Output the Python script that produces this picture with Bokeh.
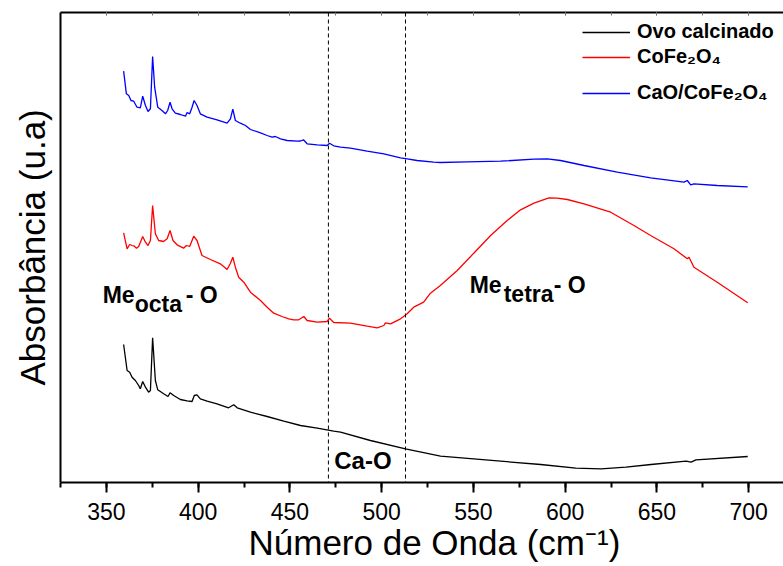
from bokeh.plotting import figure
from bokeh.models import (Range1d, LinearAxis, SingleIntervalTicker, FixedTicker,
                          Span, Label, Legend, LegendItem, Title)
from bokeh.embed import file_html
from bokeh.resources import INLINE

# FTIR spectra, wavenumber (cm-1) vs absorbance (arbitrary units, stacked)
ovo_x = [359.4, 361.3, 362.7, 364.0, 365.8, 367.6, 368.5, 369.8, 371.3, 373.0, 374.0,
         375.2, 376.7, 378.0, 381.2, 383.6, 384.7, 386.7, 390.3, 394.0, 396.7, 397.9,
         399.4, 401.2, 404.9, 410.3, 416.6, 419.4, 421.3, 428.5, 437.6, 446.7, 455.8,
         464.9, 473.9, 477.6, 493.9, 513.0, 532.1, 564.9, 586.7, 605.8, 619.5, 633.1,
         646.8, 665.9, 668.6, 671.3, 699.5]
ovo_y = [138.0, 112.0, 110.3, 105.3, 102.0, 97.0, 93.7, 101.0, 95.3, 90.3, 92.0,
         144.7, 102.0, 92.7, 88.7, 86.0, 89.7, 87.0, 83.0, 81.7, 81.0, 87.0,
         87.7, 83.7, 81.3, 78.7, 74.7, 77.7, 74.7, 70.3, 66.0, 61.3, 57.0,
         54.3, 51.3, 50.3, 42.0, 33.7, 26.3, 21.3, 18.0, 14.3, 13.7, 15.3,
         18.0, 21.3, 20.3, 22.7, 26.0]

cofe_x = [359.4, 361.3, 362.7, 364.0, 365.3, 366.4, 367.6, 369.8, 371.3, 372.7, 374.0,
          375.2, 376.7, 378.5, 381.2, 383.1, 384.7, 386.3, 388.5, 392.1, 393.6, 395.4,
          397.6, 399.4, 402.1, 406.7, 412.1, 415.8, 417.6, 418.9, 420.3, 422.1, 424.9,
          428.5, 434.0, 437.6, 441.2, 445.7, 449.4, 452.1, 454.8, 457.6, 459.4, 464.9,
          470.3, 471.6, 473.9, 483.0, 492.1, 497.6, 501.2, 502.1, 504.8, 510.3, 513.9,
          517.5, 522.9, 526.6, 532.0, 541.2, 550.2, 559.4, 568.4, 575.7, 583.0, 591.2,
          595.7, 601.2, 610.3, 624.8, 637.5, 646.6, 659.3, 666.6, 667.5, 670.2, 682.9,
          699.5]
cofe_y = [249.7, 233.7, 238.0, 237.0, 236.3, 234.3, 236.0, 246.0, 240.3, 237.0, 242.0,
          277.0, 248.7, 242.0, 241.0, 243.7, 252.0, 242.0, 237.7, 234.3, 237.0, 236.0,
          246.3, 242.0, 227.0, 223.0, 218.7, 213.0, 219.3, 225.3, 215.3, 205.3, 200.3,
          190.3, 182.0, 175.3, 169.3, 166.0, 163.7, 162.7, 162.7, 166.0, 162.0, 160.3,
          161.0, 164.3, 160.0, 159.3, 156.3, 154.7, 157.0, 159.7, 158.7, 163.7, 168.7,
          175.3, 180.3, 189.3, 197.0, 212.0, 229.3, 247.0, 262.0, 272.7, 279.3, 284.7,
          284.3, 283.0, 278.7, 270.3, 257.0, 247.0, 233.7, 223.7, 225.3, 215.3, 200.3,
          179.7]

cao_x = [359.4, 360.9, 362.2, 363.4, 364.9, 366.7, 368.5, 369.8, 371.3, 372.7, 374.0,
         375.2, 376.3, 378.0, 380.3, 382.2, 383.4, 384.7, 385.8, 387.6, 390.3, 393.1,
         394.0, 395.4, 396.7, 397.8, 399.4, 401.2, 404.9, 410.3, 415.8, 417.6, 418.9,
         420.3, 423.0, 425.8, 428.5, 434.0, 437.6, 440.3, 442.1, 444.9, 448.5, 454.0,
         455.8, 457.4, 459.4, 464.9, 470.3, 471.6, 473.9, 477.6, 483.0, 492.1, 501.2,
         510.3, 513.9, 519.3, 528.4, 532.0, 546.6, 564.8, 583.0, 590.3, 597.5, 610.3,
         628.4, 646.6, 664.8, 666.6, 668.4, 670.2, 682.9, 699.5]
cao_y = [411.3, 388.7, 387.0, 382.0, 381.3, 375.3, 374.7, 386.3, 377.0, 371.0, 373.7,
         426.0, 395.3, 375.3, 372.0, 368.7, 372.0, 380.3, 373.7, 369.3, 368.0, 366.3,
         370.0, 368.7, 375.3, 382.0, 377.0, 368.7, 365.3, 362.7, 359.3, 363.7, 373.3,
         362.0, 359.3, 357.0, 353.0, 349.7, 347.0, 345.3, 346.0, 343.7, 342.0, 341.3,
         341.5, 342.7, 338.7, 337.7, 337.0, 339.3, 336.7, 335.3, 334.3, 331.3, 328.7,
         324.7, 323.7, 322.0, 320.3, 320.0, 320.7, 321.3, 323.3, 323.7, 322.0, 317.0,
         310.3, 304.7, 300.3, 302.0, 297.7, 298.7, 297.0, 295.7]

series_names = ["Ovo calcinado", "CoFe\u2082O\u2084", "CaO/CoFe\u2082O\u2084"]
series_colors = ["#000000", "#FF0000", "#0000FF"]

band_lines = [471.0, 513.0]
x_ticks_interval = 50

x_title = "N\u00famero de Onda (cm\u207b\u00b9)"
y_title = "Absorb\u00e2ncia (u.a)"

FONT = "Liberation Sans"

p = figure(width=783, height=566, output_backend="svg", toolbar_location=None,
           x_range=Range1d(325, 719), y_range=Range1d(0, 470),
           x_axis_location=None, y_axis_location=None,
           min_border_left=60, min_border_right=0, min_border_top=12,
           min_border_bottom=84)
p.outline_line_color = None
p.xgrid.visible = False
p.ygrid.visible = False
p.background_fill_color = "white"
p.border_fill_color = "white"

# bottom axis with labelled majors and outward minor ticks
xb = LinearAxis(ticker=SingleIntervalTicker(interval=x_ticks_interval, num_minor_ticks=2))
xb.major_label_text_font = FONT
xb.major_label_text_font_size = "23px"
xb.major_label_text_color = "black"
xb.major_label_standoff = 10
xb.axis_line_width = 2
xb.major_tick_line_width = 2
xb.minor_tick_line_width = 2
xb.major_tick_in = 0
xb.major_tick_out = 10
xb.minor_tick_in = 0
xb.minor_tick_out = 5
p.add_layout(xb, "below")

# top frame edge with small inward ticks, no labels
xt = LinearAxis(ticker=SingleIntervalTicker(interval=x_ticks_interval, num_minor_ticks=2))
xt.major_label_text_font_size = "0px"
xt.major_label_text_color = None
xt.major_label_standoff = 0
xt.axis_line_width = 2
xt.major_tick_in = 3
xt.major_tick_out = 0
xt.minor_tick_in = 3
xt.minor_tick_out = 0
xt.major_tick_line_color = "#777777"
xt.minor_tick_line_color = "#777777"
p.add_layout(xt, "above")

# left frame edge, no ticks
yl = LinearAxis(ticker=FixedTicker(ticks=[]))
yl.major_label_text_font_size = "0px"
yl.major_label_text_color = None
yl.major_label_standoff = 0
yl.major_tick_out = 0
yl.major_tick_in = 0
yl.axis_line_width = 2
p.add_layout(yl, "left")

# axis titles
p.add_layout(Title(text=x_title, align="left", offset=188, vertical_align="top",
                   standoff=0, text_font=FONT, text_font_size="35px",
                   text_font_style="normal", text_color="black"), "below")
p.add_layout(Title(text=y_title, align="left", offset=97, vertical_align="bottom",
                   standoff=18, text_font=FONT, text_font_size="35px",
                   text_font_style="normal", text_color="black"), "left")

# band position markers
for xv in band_lines:
    p.add_layout(Span(location=xv, dimension="height", line_color="black",
                      line_width=1, line_dash="4 3"))

r_ovo = p.line(ovo_x, ovo_y, line_color=series_colors[0], line_width=1.3)
r_cofe = p.line(cofe_x, cofe_y, line_color=series_colors[1], line_width=1.3)
r_cao = p.line(cao_x, cao_y, line_color=series_colors[2], line_width=1.3)

# one legend per row so each entry sits at its own height (y = bottom edge)
legend_bottoms = [439, 414, 378]
for name, rend, bottom in zip(series_names, [r_ovo, r_cofe, r_cao], legend_bottoms):
    lg = Legend(items=[LegendItem(label=name, renderers=[rend])],
                location=(522, bottom), orientation="vertical")
    lg.label_text_font = FONT
    lg.label_text_font_size = "20px"
    lg.label_text_font_style = "bold"
    lg.label_text_color = "black"
    lg.glyph_width = 48
    lg.glyph_height = 20
    lg.label_height = 20
    lg.label_standoff = 7
    lg.padding = 0
    lg.margin = 0
    lg.spacing = 0
    lg.border_line_color = None
    lg.background_fill_alpha = 0
    p.add_layout(lg)

# band assignments
def band_label(x, y, main, sub, tail, size=23, sub_dx=32, sub_dy=9, tail_dx=83):
    style = dict(text_font=FONT, text_font_size=f"{size}px", text_font_style="bold",
                 text_color="black", text_baseline="alphabetic")
    p.add_layout(Label(x=x, y=y, text=main, **style))
    p.add_layout(Label(x=x, y=y, x_offset=sub_dx, y_offset=-sub_dy, text=sub, **style))
    p.add_layout(Label(x=x, y=y, x_offset=tail_dx, text=tail, **style))

band_label(348.0, 187.3, "Me", "octa", "- O")
band_label(548.0, 197.3, "Me", "tetra", "- O", sub_dx=34, tail_dx=84)

p.add_layout(Label(x=474.2, y=22, text="Ca-O", text_font=FONT, text_font_size="24px",
                   text_font_style="bold", text_color="black", text_baseline="alphabetic"))

open("out.html", "w").write(file_html(p, INLINE))
